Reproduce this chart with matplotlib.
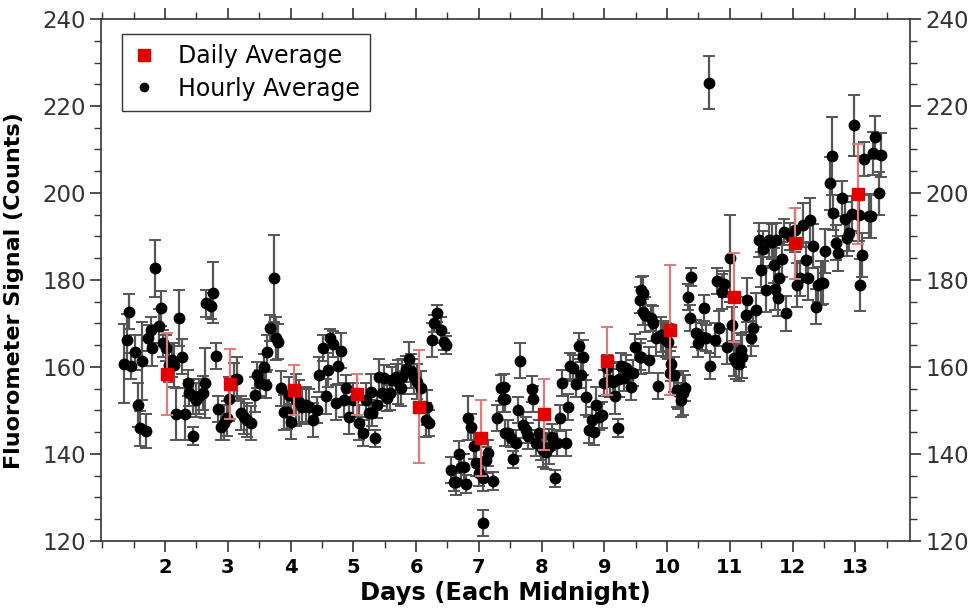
import matplotlib
matplotlib.use('Agg')
import matplotlib.pyplot as plt
from matplotlib.ticker import MultipleLocator
from matplotlib.lines import Line2D

# Daily averages (at each midnight)
daily_day = [2.03, 3.04, 4.06, 5.06, 6.04, 7.04, 8.04, 9.04, 10.05, 11.06, 12.04, 13.04]
daily_val = [158.4, 156.1, 154.7, 153.7, 150.9, 143.6, 149.1, 161.4, 168.5, 176.0, 188.4, 199.7]
daily_err = [9.5, 8.0, 5.8, 4.8, 13.0, 8.7, 8.1, 7.9, 15.0, 10.3, 8.2, 11.5]

# Hourly averages
hour_day = [1.35, 1.40, 1.43, 1.46, 1.52, 1.57, 1.60, 1.64, 1.69, 1.73, 1.77, 1.80, 1.84, 1.90, 1.93, 1.97,
            2.01, 2.06, 2.11, 2.14, 2.18, 2.22, 2.27, 2.32, 2.36, 2.38, 2.44, 2.45, 2.49, 2.54, 2.60, 2.64,
            2.66, 2.73, 2.77, 2.81, 2.85, 2.89, 2.94, 2.99, 3.02, 3.10, 3.15, 3.21, 3.26, 3.31, 3.37, 3.43,
            3.47, 3.51, 3.57, 3.61, 3.63, 3.67, 3.73, 3.77, 3.80, 3.84, 3.89, 3.95, 3.98, 4.01, 4.08, 4.14,
            4.19, 4.24, 4.30, 4.35, 4.42, 4.46, 4.51, 4.56, 4.60, 4.63, 4.67, 4.72, 4.76, 4.80, 4.85, 4.88,
            4.93, 4.99, 5.09, 5.15, 5.20, 5.25, 5.28, 5.30, 5.35, 5.38, 5.41, 5.46, 5.49, 5.54, 5.58, 5.62,
            5.68, 5.72, 5.76, 5.78, 5.84, 5.88, 5.92, 5.97, 6.02, 6.08, 6.16, 6.18, 6.21, 6.25, 6.29, 6.34,
            6.40, 6.45, 6.48, 6.55, 6.61, 6.64, 6.68, 6.71, 6.76, 6.79, 6.83, 6.87, 6.93, 6.96, 7.01, 7.06,
            7.07, 7.11, 7.15, 7.23, 7.29, 7.35, 7.38, 7.40, 7.41, 7.42, 7.46, 7.51, 7.55, 7.59, 7.63, 7.66,
            7.71, 7.75, 7.79, 7.84, 7.87, 7.91, 7.96, 7.99, 8.03, 8.07, 8.12, 8.17, 8.21, 8.25, 8.29, 8.33,
            8.39, 8.42, 8.46, 8.50, 8.55, 8.60, 8.63, 8.66, 8.71, 8.76, 8.80, 8.83, 8.87, 8.92, 8.97, 9.00,
            9.05, 9.09, 9.13, 9.17, 9.21, 9.24, 9.27, 9.32, 9.35, 9.42, 9.45, 9.49, 9.56, 9.57, 9.58, 9.59,
            9.61, 9.62, 9.65, 9.71, 9.74, 9.78, 9.82, 9.86, 9.90, 9.94, 9.98, 10.02, 10.05, 10.06, 10.11, 10.15,
            10.18, 10.22, 10.25, 10.29, 10.33, 10.37, 10.38, 10.46, 10.50, 10.56, 10.59, 10.62, 10.66, 10.69, 10.77, 10.80,
            10.83, 10.87, 10.91, 10.96, 11.00, 11.04, 11.07, 11.10, 11.14, 11.18, 11.20, 11.25, 11.28, 11.33, 11.37, 11.42,
            11.46, 11.50, 11.53, 11.58, 11.63, 11.67, 11.71, 11.72, 11.74, 11.76, 11.79, 11.83, 11.87, 11.90, 11.95, 12.03,
            12.07, 12.11, 12.16, 12.21, 12.24, 12.28, 12.32, 12.37, 12.41, 12.45, 12.49, 12.52, 12.59, 12.62, 12.65, 12.69,
            12.73, 12.79, 12.83, 12.87, 12.90, 12.94, 12.98, 13.05, 13.08, 13.10, 13.14, 13.21, 13.25, 13.28, 13.32, 13.37,
            13.41]
hour_val = [160.8, 166.2, 172.7, 160.3, 163.4, 151.3, 145.9, 161.4, 145.3, 166.6, 168.5, 164.3, 182.7, 169.4, 173.5, 165.4,
            164.4, 160.5, 161.6, 160.5, 149.1, 171.3, 162.4, 149.1, 156.4, 154.0, 144.1, 153.3, 152.4, 153.3, 154.0, 156.3,
            174.6, 174.0, 177.1, 162.6, 150.3, 146.3, 147.2, 148.2, 152.6, 157.0, 157.2, 149.4, 148.6, 147.8, 147.1, 153.6,
            158.2, 156.3, 160.1, 155.9, 163.4, 168.9, 180.4, 166.6, 165.8, 155.1, 149.6, 149.7, 153.6, 147.4, 152.4, 152.0,
            150.9, 151.3, 150.9, 147.8, 150.1, 158.2, 164.3, 153.3, 159.3, 166.7, 165.2, 151.8, 160.2, 163.7, 152.4, 155.1,
            148.6, 152.4, 147.2, 144.8, 152.4, 149.4, 154.3, 149.4, 143.6, 151.3, 157.8, 154.0, 157.4, 152.8, 154.0, 157.0,
            157.8, 156.6, 155.1, 157.8, 159.5, 161.8, 159.1, 157.8, 156.6, 155.1, 147.8, 150.7, 147.1, 166.2, 170.0, 172.3,
            168.5, 165.8, 165.1, 136.3, 133.6, 133.6, 140.0, 136.9, 137.1, 133.1, 148.3, 146.3, 141.9, 137.9, 135.7, 134.4,
            124.1, 138.6, 140.3, 133.8, 148.2, 155.1, 152.6, 155.5, 152.6, 144.8, 144.8, 143.6, 138.8, 142.6, 150.1, 161.4,
            146.7, 145.5, 144.1, 154.9, 152.6, 142.6, 144.8, 141.7, 140.9, 140.5, 141.7, 144.0, 134.4, 142.5, 148.2, 156.3,
            142.6, 150.9, 160.2, 159.7, 156.0, 164.8, 158.2, 162.2, 153.0, 145.5, 147.8, 145.1, 151.3, 148.6, 149.0, 156.3,
            159.7, 157.0, 156.6, 153.3, 146.0, 157.2, 160.2, 157.4, 159.7, 155.5, 158.7, 164.5, 162.4, 175.4, 177.7, 162.4,
            176.9, 172.7, 172.0, 161.6, 171.2, 170.0, 166.6, 155.6, 167.4, 166.6, 166.2, 165.8, 158.6, 160.7, 158.2, 154.7,
            154.3, 152.4, 154.0, 155.1, 176.1, 171.3, 180.7, 167.7, 165.4, 167.0, 173.5, 166.6, 225.4, 160.2, 166.2, 179.8,
            168.9, 177.3, 179.1, 164.7, 185.0, 169.7, 162.0, 161.2, 160.8, 163.9, 162.4, 172.0, 175.4, 166.6, 168.9, 173.1,
            189.2, 182.4, 187.2, 177.7, 189.2, 188.8, 183.4, 178.0, 189.2, 175.8, 180.4, 184.8, 191.1, 172.3, 190.0, 191.5,
            178.9, 180.4, 192.6, 184.6, 180.4, 193.8, 187.8, 173.9, 178.9, 179.3, 179.4, 186.7, 202.2, 208.5, 195.5, 188.6,
            186.1, 198.8, 194.0, 189.6, 190.7, 195.2, 215.6, 194.9, 178.9, 185.7, 207.8, 194.6, 194.7, 209.1, 212.8, 199.9,
            208.7]
hour_err = [9, 6, 4, 3, 4, 5, 4, 9, 4, 3, 3, 4, 6.5, 4, 4, 3,
            3, 4, 4, 5, 6, 6.5, 4, 6, 3, 3, 2, 4, 4, 4, 4, 8,
            3, 3, 7, 3, 3, 3, 4, 4, 5, 4, 5, 4, 4, 4, 4, 4,
            3, 3, 3, 3, 4, 3, 10, 5, 4, 4, 4, 4, 4, 4, 6, 5,
            4, 4, 4, 4, 3, 4, 3, 4, 4, 2, 3, 4, 4, 4, 4, 3,
            4, 4, 4, 3, 4, 4, 4, 3, 2, 3, 4, 3, 3, 3, 4, 3,
            3, 5, 4, 4, 3, 4, 4, 4, 4, 4, 4, 4, 3, 4, 2, 2,
            3, 2, 2, 3, 2, 3, 3, 3, 3, 2, 5, 3, 3, 3, 3, 3,
            3, 3, 3, 2, 3, 3, 3, 3, 3, 3, 3, 2, 2, 3, 3, 4,
            3, 3, 3, 3, 3, 3, 3, 3, 4, 4, 4, 3, 2, 3, 3, 3,
            3, 3, 3, 3, 3, 3, 3, 4, 4, 3, 3, 3, 4, 3, 3, 3,
            3, 4, 3, 4, 2, 4, 3, 3, 3, 3, 3, 3, 3, 3, 3, 4,
            4, 3, 4, 3, 3, 4, 4, 3, 4, 4, 4, 4, 5, 4, 4, 4,
            4, 4, 5, 3, 3, 3, 2, 3, 3, 3, 3, 3, 6, 3, 4, 3,
            4, 4, 3, 4, 10, 4, 4, 4, 4, 4, 5, 4, 5, 4, 4, 4,
            4, 4, 4, 5, 4, 4, 4, 5, 4, 4, 4, 4, 3, 4, 3, 5,
            5, 4, 5, 4, 5, 5, 5, 4, 4, 5, 5, 5, 6, 9, 4, 4,
            4, 4, 4, 4, 4, 4, 7, 6, 6, 5, 4, 5, 5, 5, 5, 5,
            5]

plt.rcParams['font.family'] = 'DejaVu Sans'

fig = plt.figure(figsize=(9.74, 6.11), dpi=100)
ax = fig.add_axes([0.1037, 0.1146, 0.8306, 0.8543])

ax.errorbar(hour_day, hour_val, yerr=hour_err, fmt='o', color='black', markersize=7.5,
            ecolor='#555555', elinewidth=1.6, capsize=4, capthick=1.4, zorder=3)
ax.errorbar(daily_day, daily_val, yerr=daily_err, fmt='s', color='#e00000', markersize=8.5,
            ecolor='#e07a7a', elinewidth=1.6, capsize=4, capthick=1.4, zorder=4)

ax.set_xlim(0.98, 13.87)
ax.set_ylim(120, 240)
ax.xaxis.set_major_locator(MultipleLocator(1))
ax.xaxis.set_minor_locator(MultipleLocator(0.5))
ax.yaxis.set_major_locator(MultipleLocator(20))
ax.yaxis.set_minor_locator(MultipleLocator(5))
ax.set_xticks(range(2, 14))

ax.tick_params(which='both', direction='out', top=True, right=True, labelright=True, color='#333333')
ax.tick_params(which='major', length=8, width=1.2)
ax.tick_params(which='minor', length=5, width=1.0)
ax.tick_params(axis='y', labelsize=16.5, labelcolor='#333333', pad=3)
ax.tick_params(axis='x', labelsize=14, pad=4)
for lbl in ax.get_xticklabels():
    lbl.set_fontweight('bold')
for sp in ax.spines.values():
    sp.set_color('#333333')
    sp.set_linewidth(1.2)

ax.set_xlabel('Days (Each Midnight)', fontsize=17.5, fontweight='bold', labelpad=3)
ax.set_ylabel('Fluorometer Signal (Counts)', fontsize=16, fontweight='bold', labelpad=4)
ax.yaxis.set_label_coords(-0.095, 0.48)

handles = [Line2D([], [], linestyle='none', marker='s', color='#e00000', markersize=9),
           Line2D([], [], linestyle='none', marker='o', color='black', markersize=6)]
leg = ax.legend(handles, ['Daily Average', 'Hourly Average'], loc='upper left',
                bbox_to_anchor=(0.026, 0.972), fontsize=17, frameon=True, fancybox=False,
                edgecolor='black', handlelength=1.0, handletextpad=0.9,
                borderpad=0.45, labelspacing=0.35, borderaxespad=0)
leg.get_frame().set_linewidth(1.0)

plt.savefig('out.png', dpi=100)
plt.close()
